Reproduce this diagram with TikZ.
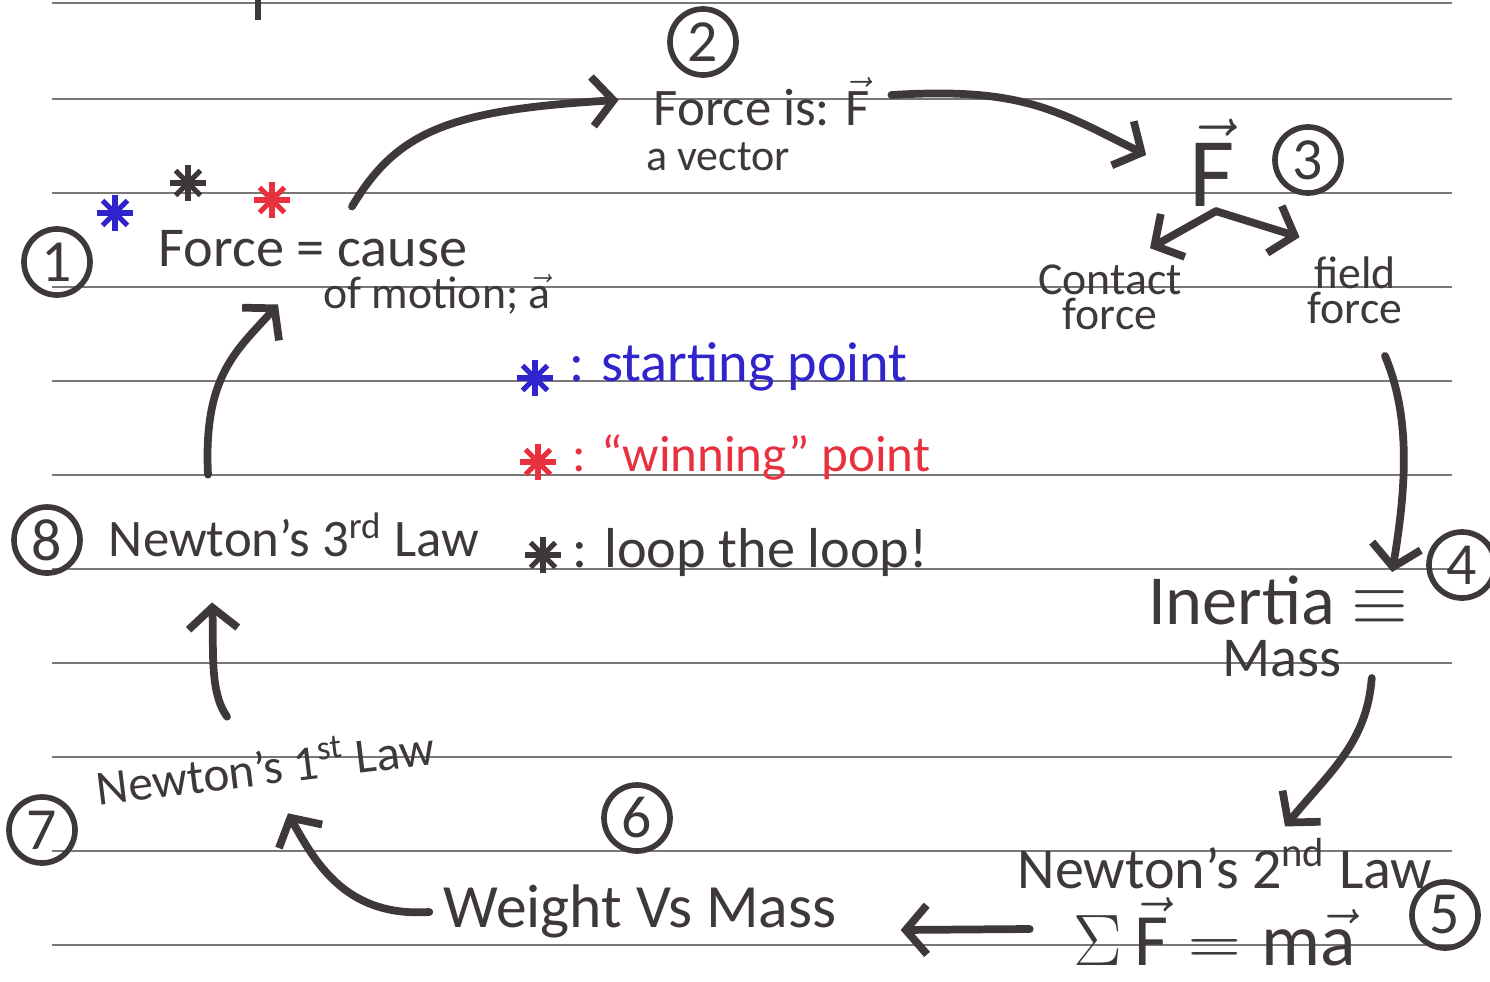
\documentclass[tikz,border=0pt]{standalone}
\usepackage{amsmath}
\usepackage{fontspec}
\setmainfont{Carlito}
\usetikzlibrary{positioning}
\usetikzlibrary{arrows.meta}
\definecolor{ink}{RGB}{62,56,56}
\definecolor{penblue}{RGB}{48,36,205}
\definecolor{penred}{RGB}{232,48,62}
\definecolor{rule}{RGB}{120,120,120}
\tikzset{flow/.style = {line width=2.2pt, line cap=round,
                        -{Straight Barb[length=6pt,width=14pt]}}}
\tikzset{num/.style = {draw, circle, line width=1.6pt, inner sep=0,
                       minimum size=0.66cm, font=\fontsize{17}{17}\selectfont}}
\tikzset{hand/.style = {inner sep=1pt}}
\tikzset{aster/.pic = {\foreach \a in {0,45,90,135}
                         \draw[line width=1.5pt] (\a:5pt) -- (\a+180:5pt);}}

\begin{document}
\begin{tikzpicture}[x=0.01cm, y=-0.01cm, ink]
      \fill[white] (0,0) rectangle (1490,981);
      \useasboundingbox (0,0) rectangle (1490,981);
      \foreach \y in {3,99,193,287,381,475,569,663,757,851,945}
        \draw[rule, line width=0.6pt] (52,\y) -- (1452,\y);
      \draw[line width=1.5pt] (258,0) -- (258,20);

      \node[num] (c1) at (57,262) {1};
      \node[num] (c2) at (703,42) {2};
      \node[num] (c3) at (1308,160) {3};
      \node[num] (c4) at (1462,565) {4};
      \node[num] (c5) at (1445,915) {5};
      \node[num] (c6) at (637,818) {6};
      \node[num] (c7) at (42,830) {7};
      \node[num] (c8) at (47,540) {8};

      \pic[penblue] at (115,213) {aster};
      \pic at (188,183) {aster};
      \pic[penred] at (272,200) {aster};

      \node[hand, font=\fontsize{16}{19}\selectfont] (force) at (313,249) {Force = cause};
      \node[hand, font=\fontsize{13}{15}\selectfont] (motion) at (437,294) {of motion; $\vec{\text{a}}$};
      \node[hand, font=\fontsize{15}{18}\selectfont] (vec) at (762,102) {Force is: $\vec{\text{F}}$};
      \node[hand, font=\fontsize{12.5}{15}\selectfont] (vector) at (718,157) {a vector};
      \node[hand, font=\fontsize{28}{30}\selectfont] (fvec) at (1212,163) {$\vec{\text{F}}$};
      \node[hand, align=center, font=\fontsize{13}{10}\selectfont] (contact) at (1110,297) {Contact\\force};
      \node[hand, align=center, font=\fontsize{13}{10}\selectfont] (field) at (1355,290) {field\\force};
      \node[hand, font=\fontsize{20}{24}\selectfont] (inertia) at (1278,600) {Inertia $\equiv$};
      \node[hand, font=\fontsize{16}{19}\selectfont] (mass) at (1282,659) {Mass};
      \node[hand, font=\fontsize{16.5}{20}\selectfont] (law2) at (1225,864) {Newton's 2\textsuperscript{nd} Law};
      \node[hand, font=\fontsize{21}{24}\selectfont] (eq) at (1215,932) {$\Sigma\,\vec{\text{F}}=\text{m}\vec{\text{a}}$};
      \node[hand, font=\fontsize{17.5}{21}\selectfont] (weight) at (640,911) {Weight Vs Mass};
      \node[hand, rotate=7, font=\fontsize{14}{17}\selectfont] (law1) at (265,765) {Newton's 1\textsuperscript{st} Law};
      \node[hand, font=\fontsize{15}{18}\selectfont] (law3) at (294,535) {Newton's 3\textsuperscript{rd} Law};

      \pic[penblue] at (535,378) {aster};
      \node[hand, penblue, anchor=west, font=\fontsize{16}{19}\selectfont] (leg1) at (565,367) {: starting point};
      \pic[penred] at (538,462) {aster};
      \node[hand, penred, anchor=west, font=\fontsize{14.5}{17}\selectfont] (leg2) at (568,457) {: “winning” point};
      \pic at (543,555) {aster};
      \node[hand, anchor=west, font=\fontsize{16}{19}\selectfont] (leg3) at (568,552) {: loop the loop!};

      \draw[flow] ([shift={(39,-20)}]force.north) .. controls +(45,-75) and +(-170,10) .. ([shift={(-31,-2)}]vec.west);
      \draw[flow] ([shift={(17,-7)}]vec.east) .. controls +(130,-8) and +(-90,-45) .. ([shift={(-39,-8)}]fvec.west);
      \draw[flow] ([shift={(4,0)}]fvec.south) -- ([shift={(40,-12)}]contact.north);
      \draw[flow] ([shift={(4,0)}]fvec.south) -- ([shift={(-4,-15)}]field.north west);
      \draw[flow] ([shift={(30,28)}]field.south) .. controls +(25,60) and +(15,-90) .. ([shift={(-34,7)}]c4.west);
      \draw[flow] ([shift={(26,19)}]mass.east) .. controls +(-5,65) and +(45,-55) .. ([shift={(60,-8)}]law2.north);
      \draw[flow] ([shift={(-40,-3)}]eq.west) -- ([shift={(60,19)}]weight.east);
      \draw[flow] ([shift={(-10,1)}]weight.west) .. controls +(-80,5) and +(30,55) .. ([shift={(20,24)}]law1.south);
      \draw[flow] ([shift={(-35,-24)}]law1.north) .. controls +(-18,-25) and +(2,45) .. ([shift={(-82,41)}]law3.south);
      \draw[flow] ([shift={(-86,-34)}]law3.north) .. controls +(-5,-100) and +(-40,45) .. ([shift={(-35,33)}]force.south);
\end{tikzpicture}
\end{document}
